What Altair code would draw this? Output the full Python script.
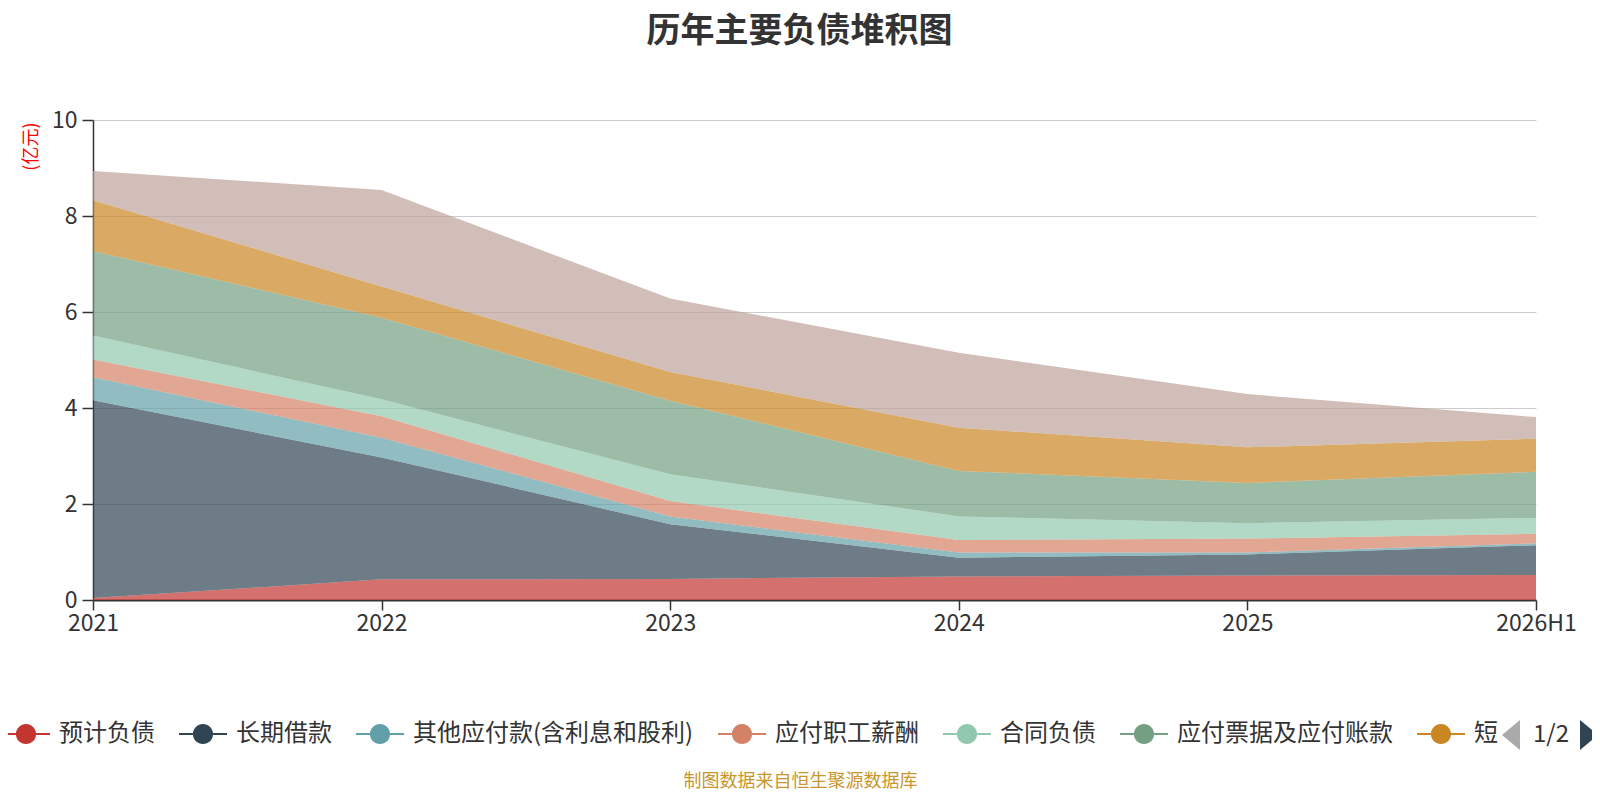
import altair as alt
import pandas as pd

years = ["2021", "2022", "2023", "2024", "2025", "2026H1"]
series_names = [
    "预计负债",
    "长期借款",
    "其他应付款(含利息和股利)",
    "应付职工薪酬",
    "合同负债",
    "应付票据及应付账款",
    "短期借款",
    "一年内到期的非流动负债",
]
colors = ["#c23531", "#2f4554", "#61a0a8", "#d48265", "#91c7ae", "#749f83", "#ca8622", "#bda29a"]

yuji_fuzhai = [0.04, 0.43, 0.44, 0.49, 0.51, 0.52]
changqi_jiekuan = [4.12, 2.54, 1.14, 0.39, 0.44, 0.62]
qita_yingfu = [0.48, 0.41, 0.16, 0.11, 0.04, 0.04]
yingfu_zhigong = [0.37, 0.45, 0.32, 0.26, 0.29, 0.20]
hetong_fuzhai = [0.50, 0.35, 0.56, 0.49, 0.32, 0.33]
yingfu_piaoju = [1.76, 1.70, 1.53, 0.95, 0.84, 0.96]
duanqi_jiekuan = [1.06, 0.65, 0.60, 0.90, 0.74, 0.69]
yinian_daoqi = [0.61, 2.01, 1.53, 1.56, 1.11, 0.45]

series_values = [yuji_fuzhai, changqi_jiekuan, qita_yingfu, yingfu_zhigong,
                 hetong_fuzhai, yingfu_piaoju, duanqi_jiekuan, yinian_daoqi]

rows = []
for i, (name, vals) in enumerate(zip(series_names, series_values)):
    for yr, v in zip(years, vals):
        rows.append({"year": yr, "series": name, "value": v, "idx": i})
df = pd.DataFrame(rows)

FONT = "Noto Sans CJK SC"
W, H = 1443, 480
shown = series_names[:7]   # legend page 1

# legend icon: thin bar on both sides of a filled circle (all filled, one colour)
icon_path = (
    "M-1,-0.04L-0.42,-0.04L-0.42,0.04L-1,0.04Z"
    "M0.42,-0.04L1,-0.04L1,0.04L0.42,0.04Z"
    "M-0.42,0A0.42,0.42,0,1,1,0.42,0A0.42,0.42,0,1,1,-0.42,0Z"
)
label_expr = "datum.label == '短期借款' ? slice(datum.label, 0, 1) : datum.label"

area = alt.Chart(df).mark_area(opacity=0.7, interpolate="linear").encode(
    x=alt.X(
        "year:O", sort=years,
        scale=alt.Scale(type="point", padding=0),
        axis=alt.Axis(
            title="制图数据来自恒生聚源数据库",
            titleFont=FONT, titleFontSize=18, titleFontWeight="normal",
            titleColor="#c9962b", titleX=707, titleY=181,
            titleAlign="center", titleBaseline="middle",
            labelAngle=0, labelFont=FONT, labelFontSize=23, labelColor="#333333",
            labelPadding=2, tickSize=10, tickColor="#333333", tickWidth=1.5,
            domainColor="#333333", domainWidth=2, grid=False,
        ),
    ),
    y=alt.Y(
        "value:Q", stack="zero",
        scale=alt.Scale(domain=[0, 10], nice=False),
        axis=alt.Axis(
            values=[0, 2, 4, 6, 8, 10],
            title="(亿元)", titleFont=FONT, titleFontSize=18, titleFontWeight="normal",
            titleColor="#ff0000", titleAngle=270, titleX=-62, titleY=2,
            titleAlign="right", titleBaseline="middle",
            labelFont=FONT, labelFontSize=23, labelColor="#333333", labelPadding=5,
            tickSize=11, tickColor="#333333", tickWidth=1.5,
            domainColor="#333333", domainWidth=1.5,
            gridColor="#cccccc", gridWidth=1,
        ),
    ),
    color=alt.Color(
        "series:N",
        scale=alt.Scale(domain=series_names, range=colors),
        legend=alt.Legend(
            title=None, orient="none", legendX=-91, legendY=590,
            direction="horizontal", columns=7, values=shown,
            symbolType=icon_path, symbolSize=2304, symbolOpacity=1,
            symbolStrokeWidth=0,
            labelFont=FONT, labelFontSize=24, labelColor="#333333",
            labelOffset=9, columnPadding=24, labelLimit=400, padding=0,
            labelExpr=label_expr,
        ),
    ),
    order=alt.Order("idx:Q", sort="ascending"),
)

pager_prev = alt.Chart(pd.DataFrame({"k": ["prev"]})).mark_point(
    shape="M0.6,-1L-0.6,0L0.6,1Z", filled=True, size=900, color="#aaaaaa", opacity=1
).encode(x=alt.value(1418), y=alt.value(615))

pager_text = alt.Chart(pd.DataFrame({"t": ["1/2"]})).mark_text(
    font=FONT, fontSize=24, color="#333333", align="center", baseline="middle"
).encode(x=alt.value(1458), y=alt.value(615), text="t:N")

pager_next = alt.Chart(pd.DataFrame({"k": ["next"]})).mark_point(
    shape="M-0.6,-1L0.6,0L-0.6,1Z", filled=True, size=900, color="#2f4554", opacity=1
).encode(x=alt.value(1496), y=alt.value(615))

chart = alt.layer(area, pager_prev, pager_text, pager_next).properties(
    width=W, height=H,
    title=alt.TitleParams(
        "历年主要负债堆积图", font=FONT, fontSize=34, fontWeight="bold",
        color="#333333", anchor="middle", frame="group", offset=60, dx=-15,
    ),
    padding={"left": 85, "top": 112, "right": 56, "bottom": 192},
    autosize=alt.AutoSizeParams(type="none"),
).configure(font=FONT, background="white").configure_view(stroke=None)

chart.save("out.html", embed_options={"renderer": "svg", "actions": False})
